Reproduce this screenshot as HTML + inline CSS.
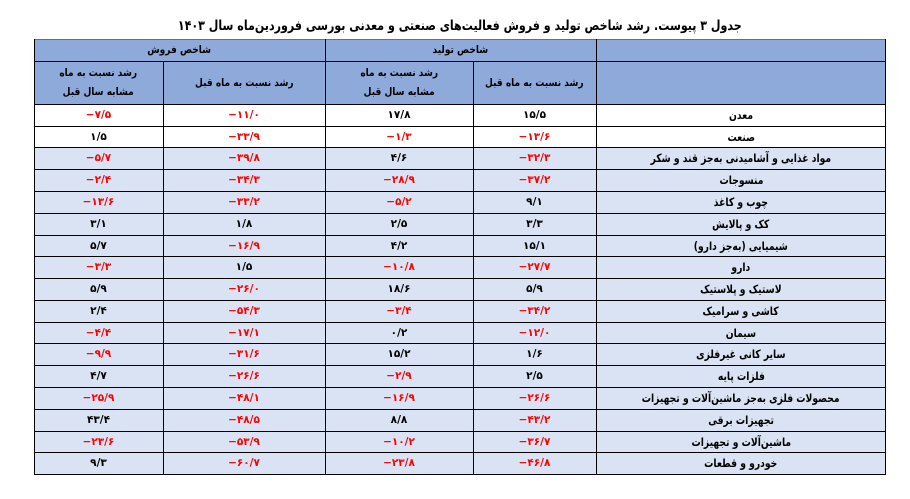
<!DOCTYPE html>
<html lang="fa">
<head>
<meta charset="utf-8">
<style>
  html,body{margin:0;padding:0;background:#fff;}
  body{width:910px;height:499px;position:relative;overflow:hidden;
       font-family:"DejaVu Sans","Liberation Sans",sans-serif;}
  .title{position:absolute;left:34px;width:852px;top:16px;text-align:center;
         font-weight:bold;font-size:13.5px;line-height:20px;color:#000;direction:rtl;}
  .title span{display:inline-block;transform:scaleX(0.82);transform-origin:center;white-space:nowrap;}
  .bg{position:absolute;}
  .h{position:absolute;height:1px;background:#000;}
  .v{position:absolute;width:1px;background:#000;}
  .t{position:absolute;display:flex;align-items:center;justify-content:center;
     text-align:center;color:#000;font-weight:bold;white-space:nowrap;}
  .lab{font-size:11.5px;direction:rtl;}
  .lab span{display:inline-block;transform:scaleX(0.8);}
  .num{font-size:10.5px;direction:ltr;}
  .neg{color:#ff0000;}
  .hd{font-size:10.5px;direction:rtl;line-height:19px;}
  .hd span{display:inline-block;transform:scaleX(0.86);}
</style>
</head>
<body>
<div class="title"><span>جدول ۳ پیوست. رشد شاخص تولید و فروش فعالیت‌های صنعتی و معدنی بورسی فروردین‌ماه سال ۱۴۰۳</span></div>

<div class="bg" style="left:34px;top:39px;width:852px;height:65px;background:#8eaadb;"></div>
<div class="bg" style="left:34px;top:104px;width:852px;height:43.5px;background:#ffffff;"></div>
<div class="bg" style="left:34px;top:147.5px;width:852px;height:326.5px;background:#dae3f3;"></div>

<div class="h" style="left:34px;top:39px;width:852px;background:#4472c4;"></div>
<div class="h" style="left:34px;top:61px;width:852px;"></div>
<div class="h" style="left:34px;top:104px;width:852px;"></div>
<div class="h" style="left:34px;top:126px;width:852px;"></div>
<div class="h" style="left:34px;top:147px;width:852px;"></div>
<div class="h" style="left:34px;top:169px;width:852px;"></div>
<div class="h" style="left:34px;top:191px;width:852px;"></div>
<div class="h" style="left:34px;top:213px;width:852px;"></div>
<div class="h" style="left:34px;top:235px;width:852px;"></div>
<div class="h" style="left:34px;top:256px;width:852px;"></div>
<div class="h" style="left:34px;top:278px;width:852px;"></div>
<div class="h" style="left:34px;top:300px;width:852px;"></div>
<div class="h" style="left:34px;top:322px;width:852px;"></div>
<div class="h" style="left:34px;top:343px;width:852px;"></div>
<div class="h" style="left:34px;top:365px;width:852px;"></div>
<div class="h" style="left:34px;top:387px;width:852px;"></div>
<div class="h" style="left:34px;top:409px;width:852px;"></div>
<div class="h" style="left:34px;top:431px;width:852px;"></div>
<div class="h" style="left:34px;top:452px;width:852px;"></div>
<div class="h" style="left:34px;top:474px;width:852px;"></div>

<div class="v" style="left:34px;top:39px;height:436px;"></div>
<div class="v" style="left:163px;top:61px;height:414px;"></div>
<div class="v" style="left:325px;top:39px;height:436px;"></div>
<div class="v" style="left:473px;top:61px;height:414px;"></div>
<div class="v" style="left:596px;top:39px;height:436px;"></div>
<div class="v" style="left:885px;top:39px;height:436px;"></div>

<div class="t hd" style="left:34px;top:40px;width:291px;height:21px;"><span>شاخص فروش</span></div>
<div class="t hd" style="left:325px;top:40px;width:271px;height:21px;"><span>شاخص تولید</span></div>
<div class="t hd" style="left:34px;top:62px;width:129px;height:42px;"><span>رشد نسبت به ماه<br>مشابه سال قبل</span></div>
<div class="t hd" style="left:163px;top:62px;width:162px;height:42px;"><span>رشد نسبت به ماه قبل</span></div>
<div class="t hd" style="left:325px;top:62px;width:148px;height:42px;"><span>رشد نسبت به ماه<br>مشابه سال قبل</span></div>
<div class="t hd" style="left:473px;top:62px;width:123px;height:42px;"><span>رشد نسبت به ماه قبل</span></div>

<div class="t lab" style="left:597px;top:104px;width:288px;height:22px;"><span>معدن</span></div>
<div class="t num" style="left:473px;top:104px;width:123px;height:22px;">۱۵/۵</div>
<div class="t num" style="left:325px;top:104px;width:148px;height:22px;">۱۷/۸</div>
<div class="t num neg" style="left:163px;top:104px;width:162px;height:22px;">−۱۱/۰</div>
<div class="t num neg" style="left:34px;top:104px;width:129px;height:22px;">−۷/۵</div>

<div class="t lab" style="left:597px;top:126px;width:288px;height:21px;"><span>صنعت</span></div>
<div class="t num neg" style="left:473px;top:126px;width:123px;height:21px;">−۱۳/۶</div>
<div class="t num neg" style="left:325px;top:126px;width:148px;height:21px;">−۱/۳</div>
<div class="t num neg" style="left:163px;top:126px;width:162px;height:21px;">−۳۳/۹</div>
<div class="t num" style="left:34px;top:126px;width:129px;height:21px;">۱/۵</div>

<div class="t lab" style="left:597px;top:147px;width:288px;height:22px;"><span>مواد غذایی و آشامیدنی به‌جز قند و شکر</span></div>
<div class="t num neg" style="left:473px;top:147px;width:123px;height:22px;">−۳۲/۳</div>
<div class="t num" style="left:325px;top:147px;width:148px;height:22px;">۴/۶</div>
<div class="t num neg" style="left:163px;top:147px;width:162px;height:22px;">−۳۹/۸</div>
<div class="t num neg" style="left:34px;top:147px;width:129px;height:22px;">−۵/۷</div>

<div class="t lab" style="left:597px;top:169px;width:288px;height:22px;"><span>منسوجات</span></div>
<div class="t num neg" style="left:473px;top:169px;width:123px;height:22px;">−۳۷/۲</div>
<div class="t num neg" style="left:325px;top:169px;width:148px;height:22px;">−۲۸/۹</div>
<div class="t num neg" style="left:163px;top:169px;width:162px;height:22px;">−۳۴/۳</div>
<div class="t num neg" style="left:34px;top:169px;width:129px;height:22px;">−۲/۴</div>

<div class="t lab" style="left:597px;top:191px;width:288px;height:22px;"><span>چوب و کاغذ</span></div>
<div class="t num" style="left:473px;top:191px;width:123px;height:22px;">۹/۱</div>
<div class="t num neg" style="left:325px;top:191px;width:148px;height:22px;">−۵/۲</div>
<div class="t num neg" style="left:163px;top:191px;width:162px;height:22px;">−۳۳/۲</div>
<div class="t num neg" style="left:34px;top:191px;width:129px;height:22px;">−۱۳/۶</div>

<div class="t lab" style="left:597px;top:213px;width:288px;height:22px;"><span>کک و پالایش</span></div>
<div class="t num" style="left:473px;top:213px;width:123px;height:22px;">۳/۳</div>
<div class="t num" style="left:325px;top:213px;width:148px;height:22px;">۲/۵</div>
<div class="t num" style="left:163px;top:213px;width:162px;height:22px;">۱/۸</div>
<div class="t num" style="left:34px;top:213px;width:129px;height:22px;">۳/۱</div>

<div class="t lab" style="left:597px;top:235px;width:288px;height:21px;"><span>شیمیایی (به‌جز دارو)</span></div>
<div class="t num" style="left:473px;top:235px;width:123px;height:21px;">۱۵/۱</div>
<div class="t num" style="left:325px;top:235px;width:148px;height:21px;">۴/۲</div>
<div class="t num neg" style="left:163px;top:235px;width:162px;height:21px;">−۱۶/۹</div>
<div class="t num" style="left:34px;top:235px;width:129px;height:21px;">۵/۷</div>

<div class="t lab" style="left:597px;top:256px;width:288px;height:22px;"><span>دارو</span></div>
<div class="t num neg" style="left:473px;top:256px;width:123px;height:22px;">−۲۷/۷</div>
<div class="t num neg" style="left:325px;top:256px;width:148px;height:22px;">−۱۰/۸</div>
<div class="t num" style="left:163px;top:256px;width:162px;height:22px;">۱/۵</div>
<div class="t num neg" style="left:34px;top:256px;width:129px;height:22px;">−۳/۳</div>

<div class="t lab" style="left:597px;top:278px;width:288px;height:22px;"><span>لاستیک و پلاستیک</span></div>
<div class="t num" style="left:473px;top:278px;width:123px;height:22px;">۵/۹</div>
<div class="t num" style="left:325px;top:278px;width:148px;height:22px;">۱۸/۶</div>
<div class="t num neg" style="left:163px;top:278px;width:162px;height:22px;">−۲۶/۰</div>
<div class="t num" style="left:34px;top:278px;width:129px;height:22px;">۵/۹</div>

<div class="t lab" style="left:597px;top:300px;width:288px;height:22px;"><span>کاشی و سرامیک</span></div>
<div class="t num neg" style="left:473px;top:300px;width:123px;height:22px;">−۳۴/۲</div>
<div class="t num neg" style="left:325px;top:300px;width:148px;height:22px;">−۳/۴</div>
<div class="t num neg" style="left:163px;top:300px;width:162px;height:22px;">−۵۴/۳</div>
<div class="t num" style="left:34px;top:300px;width:129px;height:22px;">۲/۴</div>

<div class="t lab" style="left:597px;top:322px;width:288px;height:21px;"><span>سیمان</span></div>
<div class="t num neg" style="left:473px;top:322px;width:123px;height:21px;">−۱۲/۰</div>
<div class="t num" style="left:325px;top:322px;width:148px;height:21px;">۰/۲</div>
<div class="t num neg" style="left:163px;top:322px;width:162px;height:21px;">−۱۷/۱</div>
<div class="t num neg" style="left:34px;top:322px;width:129px;height:21px;">−۴/۴</div>

<div class="t lab" style="left:597px;top:343px;width:288px;height:22px;"><span>سایر کانی غیرفلزی</span></div>
<div class="t num" style="left:473px;top:343px;width:123px;height:22px;">۱/۶</div>
<div class="t num" style="left:325px;top:343px;width:148px;height:22px;">۱۵/۲</div>
<div class="t num neg" style="left:163px;top:343px;width:162px;height:22px;">−۳۱/۶</div>
<div class="t num neg" style="left:34px;top:343px;width:129px;height:22px;">−۹/۹</div>

<div class="t lab" style="left:597px;top:365px;width:288px;height:22px;"><span>فلزات پایه</span></div>
<div class="t num" style="left:473px;top:365px;width:123px;height:22px;">۲/۵</div>
<div class="t num neg" style="left:325px;top:365px;width:148px;height:22px;">−۲/۹</div>
<div class="t num neg" style="left:163px;top:365px;width:162px;height:22px;">−۲۶/۶</div>
<div class="t num" style="left:34px;top:365px;width:129px;height:22px;">۴/۷</div>

<div class="t lab" style="left:597px;top:387px;width:288px;height:22px;"><span>محصولات فلزی به‌جز ماشین‌آلات و تجهیزات</span></div>
<div class="t num neg" style="left:473px;top:387px;width:123px;height:22px;">−۲۶/۶</div>
<div class="t num neg" style="left:325px;top:387px;width:148px;height:22px;">−۱۶/۹</div>
<div class="t num neg" style="left:163px;top:387px;width:162px;height:22px;">−۴۸/۱</div>
<div class="t num neg" style="left:34px;top:387px;width:129px;height:22px;">−۲۵/۹</div>

<div class="t lab" style="left:597px;top:409px;width:288px;height:22px;"><span>تجهیزات برقی</span></div>
<div class="t num neg" style="left:473px;top:409px;width:123px;height:22px;">−۴۳/۲</div>
<div class="t num" style="left:325px;top:409px;width:148px;height:22px;">۸/۸</div>
<div class="t num neg" style="left:163px;top:409px;width:162px;height:22px;">−۴۸/۵</div>
<div class="t num" style="left:34px;top:409px;width:129px;height:22px;">۴۳/۴</div>

<div class="t lab" style="left:597px;top:431px;width:288px;height:21px;"><span>ماشین‌آلات و تجهیزات</span></div>
<div class="t num neg" style="left:473px;top:431px;width:123px;height:21px;">−۳۶/۷</div>
<div class="t num neg" style="left:325px;top:431px;width:148px;height:21px;">−۱۰/۲</div>
<div class="t num neg" style="left:163px;top:431px;width:162px;height:21px;">−۵۳/۹</div>
<div class="t num neg" style="left:34px;top:431px;width:129px;height:21px;">−۲۳/۶</div>

<div class="t lab" style="left:597px;top:452px;width:288px;height:22px;"><span>خودرو و قطعات</span></div>
<div class="t num neg" style="left:473px;top:452px;width:123px;height:22px;">−۴۶/۸</div>
<div class="t num neg" style="left:325px;top:452px;width:148px;height:22px;">−۲۳/۸</div>
<div class="t num neg" style="left:163px;top:452px;width:162px;height:22px;">−۶۰/۷</div>
<div class="t num" style="left:34px;top:452px;width:129px;height:22px;">۹/۳</div>
</body>
</html>
